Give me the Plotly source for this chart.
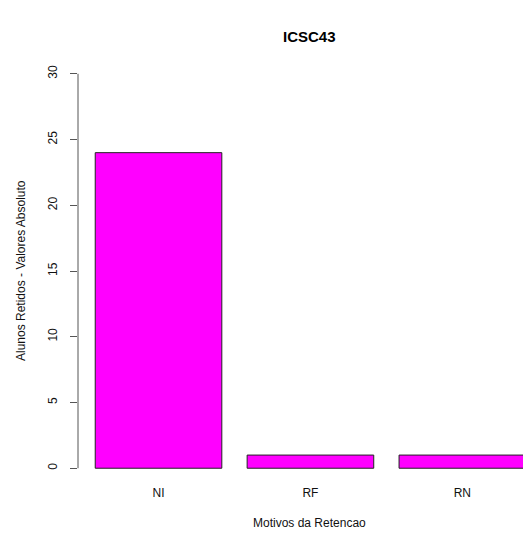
import plotly.graph_objects as go

categories = ["NI", "RF", "RN"]
values = [24, 1, 1]
bar_positions = [0.7, 1.9, 3.1]
y_ticks = [0, 5, 10, 15, 20, 25, 30]

title_text = "ICSC43"
x_title = "Motivos da Retencao"
y_title = "Alunos Retidos - Valores Absoluto"

FONT = "Liberation Sans, Arial, Helvetica, sans-serif"

fig = go.Figure(
    go.Bar(
        x=bar_positions,
        y=values,
        width=1.0,
        marker=dict(color="#FF00FF", line=dict(color="#222222", width=1)),
        hoverinfo="x+y",
    )
)

ml, mt, mb = 78, 58, 50
W, H = 523, 534
plot_w = W - ml
px_per_unit = 126.6
x0 = 0.064
x1 = x0 + plot_w / px_per_unit
center_paper = (309 - ml) / plot_w

fig.update_layout(
    width=W,
    height=H,
    margin=dict(l=ml, r=0, t=mt, b=mb, pad=0),
    plot_bgcolor="white",
    paper_bgcolor="white",
    showlegend=False,
    font=dict(family=FONT, size=12, color="#111111"),
    xaxis=dict(
        range=[x0, x1],
        tickmode="array",
        tickvals=bar_positions,
        ticktext=categories,
        showgrid=False,
        zeroline=False,
        showline=False,
        ticks="",
        tickfont=dict(size=12, color="#111111"),
        fixedrange=True,
    ),
    yaxis=dict(
        range=[-1.2, 31.2],
        tickmode="array",
        tickvals=y_ticks,
        ticktext=[str(v) for v in y_ticks],
        tickangle=-90,
        showgrid=False,
        zeroline=False,
        showline=False,
        ticks="outside",
        ticklen=7,
        tickwidth=1,
        tickcolor="#555555",
        ticklabelstandoff=8,
        tickfont=dict(size=12, color="#111111"),
        fixedrange=True,
    ),
    shapes=[
        dict(
            type="line",
            xref="paper",
            yref="y",
            x0=0,
            x1=0,
            y0=y_ticks[0],
            y1=y_ticks[-1],
            line=dict(color="#555555", width=1),
        )
    ],
    annotations=[
        dict(
            text="<b>" + title_text + "</b>",
            xref="paper",
            yref="paper",
            x=center_paper,
            y=1,
            yshift=22,
            xanchor="center",
            yanchor="middle",
            showarrow=False,
            font=dict(size=15, color="#000000", family=FONT),
        ),
        dict(
            text=x_title,
            xref="paper",
            yref="paper",
            x=center_paper,
            y=0,
            yshift=-39,
            xanchor="center",
            yanchor="middle",
            showarrow=False,
            font=dict(size=12, color="#111111", family=FONT),
        ),
        dict(
            text=y_title,
            xref="paper",
            yref="paper",
            x=0,
            xshift=-57,
            y=0.5,
            xanchor="center",
            yanchor="middle",
            textangle=-90,
            showarrow=False,
            font=dict(size=12, color="#111111", family=FONT),
        ),
    ],
)

fig.write_html(
    "out.html",
    config={"displayModeBar": False},
    post_script="document.body.style.margin='0';document.body.style.overflow='hidden';",
)
